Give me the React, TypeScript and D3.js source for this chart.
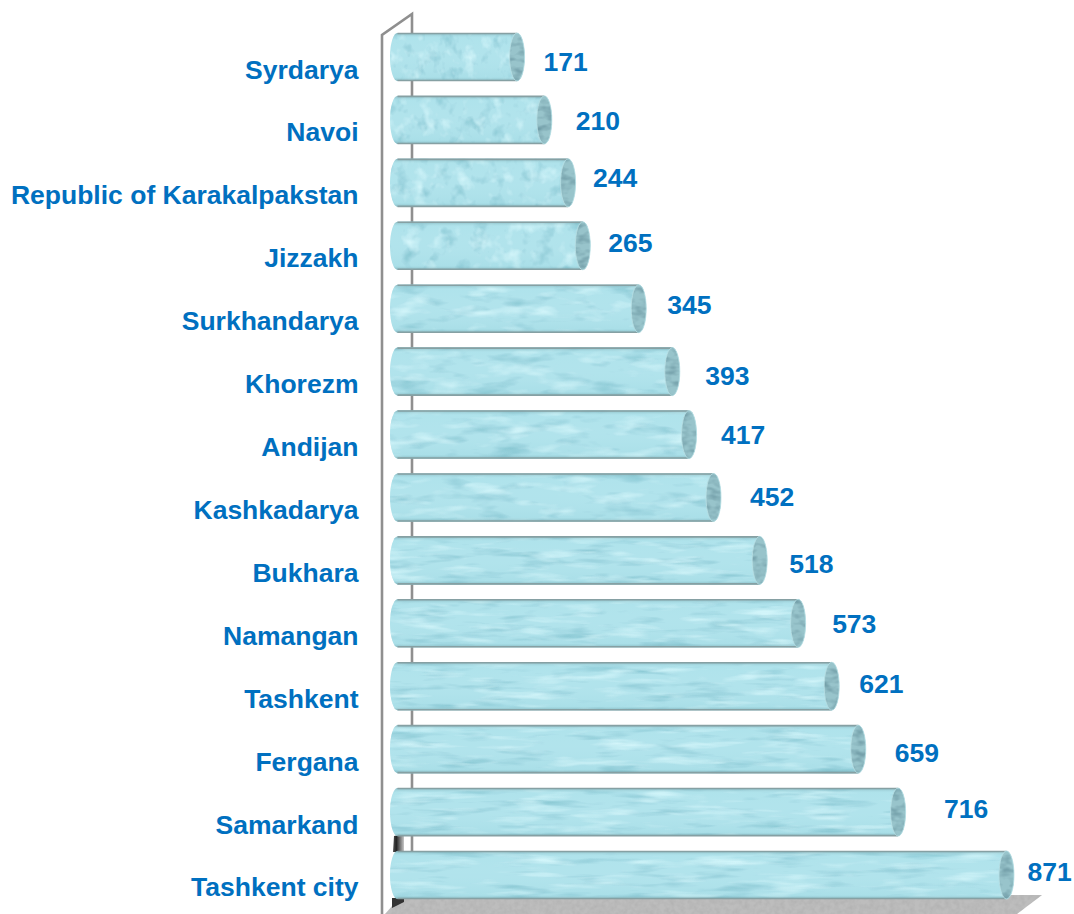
import React from 'react';
import * as d3 from 'd3';

const regions = ['Syrdarya', 'Navoi', 'Republic of Karakalpakstan', 'Jizzakh', 'Surkhandarya', 'Khorezm', 'Andijan', 'Kashkadarya', 'Bukhara', 'Namangan', 'Tashkent', 'Fergana', 'Samarkand', 'Tashkent city'];
const counts = [171, 210, 244, 265, 345, 393, 417, 452, 518, 573, 621, 659, 716, 871];
// the value labels in the picture sit unevenly, so each one gets its own nudge
const labelNudgeX = [19, 24, 17.5, 18, 21, 25.5, 24.5, 29, 22, 26.5, 20, 29, 38.5, 13.5];
const labelNudgeY = [5, 1, -5, -3, -4, 4, 0.5, 0, 4, 1, -2, 4, -3, -3];

const WIDTH = 1074;
const HEIGHT = 914;
const BLUE = '#0070c0';
const RX = 7.5;

const x = d3.scaleLinear().domain([0, 871]).range([397.5, 1006.5]);
const y = d3.scaleBand<string>().domain(regions).range([33, 899]).paddingInner(0.237).paddingOuter(0);

// texture is stretched with the bar, short bars get big blobs
const Filters = () => (
  <defs>
    {regions.map((r, i) => {
      const w = x(counts[i]) - x(0);
      const fx = 2.4 / w + 0.004;
      const fy = i < 4 ? 0.06 : i < 8 ? 0.085 : 0.12;
      return (
        <filter key={r} id={'water' + i} x="0" y="0" width="100%" height="100%" colorInterpolationFilters="sRGB">
          <feTurbulence type="fractalNoise" baseFrequency={(i < 4 ? fx * 3.5 : fx * 2) + ' ' + fy} numOctaves={3} seed={i + 3} />
          <feComponentTransfer result="n">
            <feFuncA type="linear" slope="0" intercept="1" />
          </feComponentTransfer>
          <feColorMatrix
            in="n"
            result="dark"
            type="matrix"
            values="0 0 0 0 0.52  0 0 0 0 0.77  0 0 0 0 0.82  2.6 0 0 0 -1.4"
          />
          <feColorMatrix
            in="n"
            result="light"
            type="matrix"
            values="0 0 0 0 0.82  0 0 0 0 0.96  0 0 0 0 0.98  0 -2.6 0 0 1.25"
          />
          <feComposite in="dark" in2="SourceAlpha" operator="in" result="darkIn" />
          <feComposite in="light" in2="SourceAlpha" operator="in" result="lightIn" />
          <feMerge>
            <feMergeNode in="SourceGraphic" />
            <feMergeNode in="darkIn" />
            <feMergeNode in="lightIn" />
          </feMerge>
        </filter>
      );
    })}
    <filter id="capWater" x="0" y="0" width="100%" height="100%" colorInterpolationFilters="sRGB">
      <feTurbulence type="fractalNoise" baseFrequency="0.09 0.16" numOctaves={2} seed={8} />
      <feColorMatrix type="matrix" values="0 0 0 0 0.45  0 0 0 0 0.62  0 0 0 0 0.66  2.2 0 0 0 -0.9" />
      <feComposite in2="SourceAlpha" operator="in" />
      <feMerge>
        <feMergeNode in="SourceGraphic" />
        <feMergeNode />
      </feMerge>
    </filter>
    <filter id="floorGrain" x="0" y="0" width="100%" height="100%" colorInterpolationFilters="sRGB">
      <feTurbulence type="fractalNoise" baseFrequency="0.2" numOctaves={2} seed={4} />
      <feColorMatrix type="matrix" values="0 0 0 0 0.66  0 0 0 0 0.66  0 0 0 0 0.66  0.9 0 0 0 -0.3" />
      <feComposite in2="SourceAlpha" operator="in" />
      <feMerge>
        <feMergeNode in="SourceGraphic" />
        <feMergeNode />
      </feMerge>
    </filter>
    <linearGradient id="tubeShade" x1="0" y1="0" x2="0" y2="1">
      <stop offset="0" stopColor="#5f8f96" stopOpacity="0.5" />
      <stop offset="0.1" stopColor="#bfeaf0" stopOpacity="0.1" />
      <stop offset="0.5" stopColor="#ffffff" stopOpacity="0.05" />
      <stop offset="0.92" stopColor="#8cc4cd" stopOpacity="0.1" />
      <stop offset="1" stopColor="#5f8f96" stopOpacity="0.55" />
    </linearGradient>
    <linearGradient id="cornerShade" x1="1" y1="0" x2="0" y2="0">
      <stop offset="0" stopColor="#c8c8c8" />
      <stop offset="0.7" stopColor="#222222" />
      <stop offset="1" stopColor="#555555" />
    </linearGradient>
  </defs>
);

const Bar = ({ name, i }: { name: string; i: number }) => {
  const top = y(name) as number;
  const h = y.bandwidth();
  const ry = h / 2;
  const left = x(0);
  const right = x(counts[i]);
  // d3.path has no ellipse arcs, so the tube outline is written as a path string
  const d = `M${left},${top}L${right},${top}A${RX},${ry} 0 0 1 ${right},${top + h}L${left},${top + h}A${RX},${ry} 0 0 1 ${left},${top}Z`;
  return (
    <g>
      <path d={d} fill="#ade2eb" filter={`url(#water${i})`} />
      <path d={d} fill="url(#tubeShade)" />
      <line x1={left} x2={right} y1={top + 0.5} y2={top + 0.5} stroke="#86a0a3" strokeWidth={1.6} />
      <line x1={left} x2={right} y1={top + h - 0.5} y2={top + h - 0.5} stroke="#86a0a3" strokeWidth={1.6} />
      <ellipse cx={right} cy={top + ry} rx={RX} ry={ry} fill="#98c4cb" filter="url(#capWater)" />
      <ellipse cx={right} cy={top + ry} rx={RX} ry={ry} fill="none" stroke="#b9dfe4" strokeWidth={0.8} />
    </g>
  );
};

export default function App() {
  return (
    <svg
      width={WIDTH}
      height={HEIGHT}
      viewBox={`0 0 ${WIDTH} ${HEIGHT}`}
      style={{ position: 'absolute', left: 0, top: 0, background: '#fff' }}
    >
      <Filters />
      {/* floor */}
      <polygon points="402,895 1042,895 1017,914 385,914" fill="#bdbdbd" filter="url(#floorGrain)" />
      {/* walls */}
      <path d="M382,914 L382,35 L412,14 L412,851" fill="none" stroke="#8f8f8f" strokeWidth={2.6} />
      <polygon points="394,836 404,834 404,852 393,852" fill="url(#cornerShade)" />
      <polygon points="392,898 404,898 404,902 392,908" fill="#333333" />

      {regions.map((r, i) => (
        <Bar key={r} name={r} i={i} />
      ))}

      <g fontFamily="'Liberation Sans', Arial, sans-serif" fontWeight="bold" fontSize={26.5} fill={BLUE}>
        {regions.map((r) => (
          <text key={r} x={358.5} y={(y(r) as number) + y.bandwidth() / 2 + 21.5} textAnchor="end">
            {r}
          </text>
        ))}
        {regions.map((r, i) => (
          <text
            key={r}
            x={x(counts[i]) + RX + labelNudgeX[i]}
            y={(y(r) as number) + y.bandwidth() / 2 + 9 + labelNudgeY[i]}
          >
            {counts[i]}
          </text>
        ))}
      </g>
    </svg>
  );
}
